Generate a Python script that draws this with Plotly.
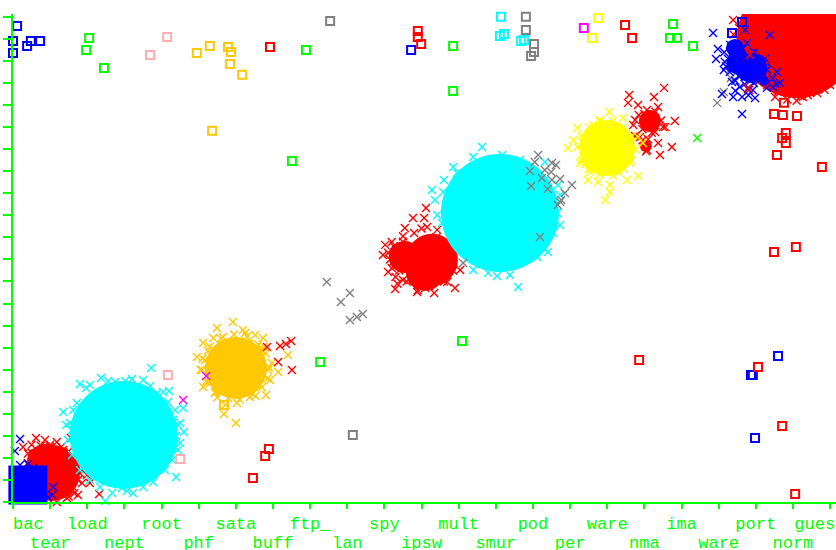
import plotly.graph_objects as go

# ---------- categories ----------
tick_labels = ["bac", "tear", "load", "nept", "root", "phf", "sata", "buff", "ftp_", "lan", "spy", "ipsw",
               "mult", "smur", "pod", "per", "ware", "nma", "ima", "ware", "port", "norm", "gues"]

# ---------- misclassified / off-diagonal instances (squares) ----------
blue_sq_x = [0.11, 0.00, 0.48, 0.73, 0.38, 0.00, 10.72, 19.36, 19.63, 19.87, 19.92, 20.60, 19.98]
blue_sq_y = [21.59, 20.91, 20.91, 20.91, 20.68, 20.36, 20.50, 21.27, 21.77, 5.76, 5.76, 6.62, 2.90]
green_sq_x = [2.05, 1.97, 2.45, 7.51, 7.89, 11.85, 11.85, 12.09, 8.27, 17.77, 17.69, 17.88, 18.31]
green_sq_y = [21.04, 20.50, 19.68, 15.46, 20.50, 20.68, 18.64, 7.30, 6.35, 21.68, 21.04, 21.04, 20.68]
pink_sq_x = [4.15, 3.69, 4.17, 4.50]
pink_sq_y = [21.09, 20.27, 5.76, 1.95]
orange_sq_x = [4.95, 5.30, 5.79, 5.87, 5.84, 6.17, 5.36, 5.68]
orange_sq_y = [20.36, 20.68, 20.63, 20.41, 19.86, 19.37, 16.83, 4.40]
red_sq_x = [6.92, 10.90, 10.90, 10.99, 16.48, 16.67, 6.46, 6.79, 6.89, 16.86, 20.06, 20.71, 21.06,
            20.76, 20.49, 20.73, 21.11, 20.81, 20.71, 20.81, 20.57, 21.78, 20.49, 21.08]
red_sq_y = [20.63, 21.36, 21.09, 20.77, 21.63, 21.04, 1.09, 2.09, 2.40, 6.44, 6.12, 3.45, 0.36,
            18.10, 17.60, 17.55, 17.51, 16.73, 16.51, 16.28, 15.74, 15.19, 11.34, 11.56]
gray_sq_x = [8.54, 9.15, 13.81, 13.81, 14.03, 14.03, 13.95]
gray_sq_y = [21.81, 3.04, 22.00, 21.41, 20.77, 20.41, 20.23]
cyan_sq_x = [13.14, 13.22, 13.11, 13.68, 13.76]
cyan_sq_y = [22.00, 21.22, 21.13, 20.91, 20.95]
yellow_sq_x = [15.75, 15.59]
yellow_sq_y = [21.95, 21.04]
magenta_sq_x = [15.37]
magenta_sq_y = [21.50]

# ---------- correctly classified instances: dense centres of each cloud ----------
norm_core_x, norm_core_y = [21.11], [21.04]
nept_core_x, nept_core_y = [2.98], [3.04]
tear_core_x, tear_core_y = [1.05, 0.86], [1.32, 1.81]
back_core_x, back_core_y = [0.40], [0.77]
sata_core_x, sata_core_y = [6.00], [6.08]
ipsw_core_x, ipsw_core_y = [11.28, 10.55, 11.09], [10.98, 11.11, 10.43]
smur_core_x, smur_core_y = [13.11], [13.11]
ware_core_x, ware_core_y = [15.99], [16.05]
nma_core_x, nma_core_y = [17.15, 17.04], [17.28, 16.14]
wcl_core_x, wcl_core_y = [19.57, 19.90, 19.44, 20.05, 20.22], [19.95, 19.68, 20.59, 19.50, 19.10]

# ---------- outer instances of each cloud (crosses) ----------
nept_x = [3.72, 4.20, 3.88, 4.36, 4.58, 4.60, 4.50, 4.44, 4.39, 3.77, 3.23, 2.67, 2.48, 2.93, 1.35, 1.80, 2.37,
          2.75, 3.20, 3.50, 1.53, 1.72, 2.07, 4.04, 4.31, 4.50, 1.48, 1.59, 1.97, 2.56, 3.02, 3.69, 4.17, 4.44,
          4.39, 4.28, 4.09, 3.50, 3.07, 2.34, 2.07, 1.80, 1.59, 1.43, 1.62]
nept_y = [6.08, 5.03, 4.94, 4.17, 4.26, 3.17, 2.68, 2.36, 1.13, 0.91, 0.41, 0.41, 0.05, 0.63, 4.08, 5.35, 5.62,
          5.44, 5.58, 5.53, 3.58, 4.49, 5.31, 4.99, 3.72, 3.58, 2.81, 3.27, 5.17, 5.49, 5.49, 5.26, 4.54, 3.49,
          2.99, 1.90, 1.45, 0.68, 0.50, 0.68, 1.00, 1.45, 2.13, 3.49, 4.17]
tear_x = [0.62, 0.86, 1.18, 1.56, 0.27, 0.51, 1.80, 1.86, 2.07, 2.32, 1.75, 1.45, 1.18, 1.67, 0.40, 1.99, 1.53,
          1.35, 1.00, 0.13, 0.81, 0.54, 0.50, 0.70, 1.00, 1.30, 1.50, 1.60, 1.70, 1.80, 1.75, 1.60, 1.30, 1.10,
          0.95, 0.75, 0.40, 1.90, 1.65, 1.50]
tear_y = [2.90, 2.81, 2.72, 2.90, 2.49, 2.22, 1.68, 0.86, 0.86, 0.36, 0.32, 0.18, 0.00, 1.32, 1.77, 1.22, 0.68,
          2.36, 2.49, 1.22, 1.68, 1.32, 2.60, 2.30, 2.60, 2.50, 2.30, 2.00, 1.70, 1.30, 1.00, 0.70, 0.40, 0.30,
          0.15, 2.55, 2.20, 1.50, 0.40, 0.25]
back_x = [0.19, 0.05, -0.05, 0.51, 0.81, 1.08, 0.94, 0.54, 0.78, 1.05, 0.19, 0.40]
back_y = [2.86, 2.31, 1.68, 1.36, 0.54, 0.68, 0.23, 1.54, 0.68, 0.32, 1.68, 1.72]
sata_x = [5.49, 5.92, 6.19, 5.12, 5.65, 4.95, 5.09, 5.12, 5.44, 5.71, 5.68, 6.00, 6.03, 6.52, 6.81, 6.92, 7.14,
          7.40, 6.73, 6.52, 6.25, 5.39, 6.97, 5.30, 6.38, 5.17, 6.70, 6.87, 6.90, 6.80, 6.60, 6.30, 5.95, 5.60,
          5.30, 5.10, 5.05, 5.20, 5.45, 5.80, 6.10, 6.45, 6.70, 6.85, 5.25, 6.55, 5.50, 6.35, 6.75, 5.35]
sata_y = [7.89, 8.16, 7.80, 7.21, 7.48, 6.58, 5.99, 5.22, 4.94, 4.40, 3.99, 3.58, 4.49, 4.81, 4.85, 5.53, 5.90,
          6.67, 7.44, 7.57, 7.66, 7.44, 6.30, 5.40, 4.76, 6.44, 6.89, 5.99, 6.10, 6.75, 7.15, 7.50, 7.60, 7.40,
          7.05, 6.50, 6.00, 5.45, 5.00, 4.70, 4.65, 4.90, 5.20, 5.60, 6.85, 5.35, 4.75, 7.15, 7.05, 5.75]
buff_x = [6.84, 7.19, 7.35, 7.49, 7.14, 7.51]
buff_y = [7.03, 7.07, 7.17, 7.30, 6.35, 5.99]
lan_x = [8.45, 9.07, 8.83, 9.07, 9.26, 9.42]
lan_y = [9.98, 9.48, 9.07, 8.25, 8.39, 8.53]
pod_x = [14.14, 14.51, 14.32, 13.92, 14.49, 14.73, 13.95, 14.40, 15.05, 14.86, 14.73, 14.19, 12.12, 18.96, 19.14,
         19.33, 14.62, 14.05, 14.24, 14.51, 14.76, 14.67]
pod_y = [15.74, 15.37, 15.06, 15.01, 14.97, 14.65, 14.33, 14.19, 14.38, 14.01, 13.61, 12.02, 10.84, 18.10, 18.59,
         19.23, 15.28, 15.42, 14.69, 14.60, 13.70, 13.47]
ipsw_x = [11.12, 10.77, 11.07, 10.55, 11.15, 10.02, 9.96, 10.10, 10.29, 10.88, 11.34, 11.90, 11.69, 12.04, 10.50,
          10.42, 10.20, 11.42, 10.31, 10.23, 10.10, 10.25, 10.50, 10.80, 11.00, 11.40, 11.70, 11.85, 11.85, 11.60,
          11.20, 10.90, 10.60, 10.30, 10.20, 10.70, 10.40, 10.90, 11.10, 10.50, 10.15, 10.35]
ipsw_y = [13.33, 12.88, 12.88, 12.43, 12.47, 11.66, 11.20, 10.43, 9.66, 9.52, 9.48, 9.70, 9.98, 10.52, 10.07,
          10.84, 11.79, 12.34, 11.43, 10.88, 11.30, 11.60, 11.80, 12.20, 12.40, 12.00, 11.60, 11.00, 10.50, 10.00,
          9.80, 9.85, 10.00, 10.20, 10.60, 10.50, 10.50, 9.60, 9.70, 12.05, 11.00, 9.90]
smur_x = [12.63, 12.39, 11.85, 11.95, 11.60, 11.28, 11.58, 11.36, 11.42, 11.55, 12.39, 12.79, 13.03, 13.38, 13.60,
          14.11, 14.40, 14.54, 14.65, 14.67, 14.32, 13.65, 13.17, 14.73, 14.73]
smur_y = [16.10, 15.65, 15.19, 14.92, 14.60, 14.15, 14.06, 13.70, 13.02, 12.65, 10.52, 10.39, 10.25, 10.29, 9.75,
          11.11, 11.34, 12.20, 13.11, 14.38, 15.42, 15.51, 15.74, 12.56, 13.92]
ware_x = [16.05, 15.94, 14.94, 15.19, 15.27, 15.48, 15.75, 16.07, 16.53, 16.83, 16.61, 16.83, 16.42, 15.62, 16.07,
          15.08, 16.96, 15.54, 15.80, 16.75, 16.65, 16.45, 16.15, 15.80, 15.50, 15.30, 15.20, 15.30, 15.50, 15.80,
          16.15, 16.45, 16.65, 15.40, 16.30]
ware_y = [17.69, 13.70, 16.05, 16.96, 15.37, 14.60, 14.51, 14.38, 14.60, 14.78, 15.37, 16.55, 17.41, 17.10, 14.06,
          16.42, 16.28, 14.97, 17.32, 16.00, 16.60, 17.00, 17.30, 17.25, 17.00, 16.60, 16.10, 15.50, 15.10, 14.85,
          14.80, 15.10, 15.50, 15.30, 14.95]
nma_x = [16.59, 17.53, 17.26, 17.37, 16.83, 17.82, 17.56, 17.37, 17.74, 17.42, 17.07, 16.75, 16.56, 17.07, 16.88,
         17.29, 16.70, 16.85, 17.00, 17.30, 17.45, 17.50, 16.95, 17.20, 17.05, 16.95, 17.10, 16.75]
nma_y = [18.46, 18.78, 18.37, 17.91, 18.00, 17.28, 17.01, 16.28, 16.10, 15.74, 15.96, 17.32, 18.10, 17.78, 16.55,
         16.78, 17.10, 17.55, 17.60, 17.70, 17.30, 17.00, 16.90, 16.75, 15.90, 16.40, 16.45, 16.60]
norm_x = [19.39, 22.00, 21.65, 21.27, 20.52, 21.00, 19.82, 20.60, 20.85, 21.10, 21.40, 21.55, 21.85, 22.10, 20.30,
          19.40, 19.55, 21.20]
norm_y = [21.86, 18.91, 18.55, 18.37, 18.37, 18.59, 18.68, 18.60, 18.25, 18.20, 18.45, 18.75, 18.70, 19.20, 18.90,
          21.20, 21.50, 18.40]
wcl_x = [18.85, 18.98, 18.93, 19.14, 19.09, 19.39, 19.63, 19.63, 19.98, 19.57, 19.36, 19.92, 20.38, 20.57, 20.65,
         20.30, 19.31, 19.17, 20.46, 20.11, 19.79, 19.71, 20.03, 19.76, 20.30, 20.11, 19.57, 19.30, 19.45, 19.70,
         19.95, 20.15, 20.30, 19.25, 19.40, 19.55, 19.70, 19.85, 20.05, 20.25, 20.45, 20.55, 19.15, 19.20, 19.35,
         19.80, 19.45, 19.65, 19.95]
wcl_y = [21.27, 20.54, 20.09, 19.59, 18.50, 18.37, 18.37, 17.60, 18.32, 18.82, 19.05, 18.68, 21.18, 19.50, 19.00,
         18.78, 20.73, 19.95, 18.82, 19.14, 18.73, 21.41, 20.36, 20.82, 19.91, 19.37, 19.37, 19.50, 19.10, 18.95,
         19.00, 19.40, 19.60, 20.10, 20.30, 19.30, 19.30, 19.10, 19.70, 20.10, 19.20, 18.95, 20.40, 19.75, 19.70,
         18.45, 18.65, 20.55, 20.40]
norm_over_x = [19.79, 20.11, 19.84, 20.38]
norm_over_y = [18.77, 20.50, 20.27, 20.05]
green_x_x, green_x_y = [18.42], [16.51]
magenta_x_x, magenta_x_y = [4.58, 5.20], [4.63, 5.71]

# ---------- styles ----------
RED, CYAN, ORANGE, YELLOW, BLUE = "#ff0000", "#00ffff", "#ffc800", "#ffff00", "#0000ff"
GREEN, PINK, GRAY, MAGENTA = "#00ff00", "#ffafaf", "#808080", "#ff00ff"

fig = go.Figure()


def crosses(x, y, color, xaxis="x"):
    fig.add_trace(go.Scatter(x=x, y=y, mode="markers", cliponaxis=False, hoverinfo="skip", xaxis=xaxis,
                             marker=dict(symbol="x-thin", size=8, color=color, opacity=1,
                                         line=dict(color=color, width=1.4))))


def squares(x, y, color):
    fig.add_trace(go.Scatter(x=x, y=y, mode="markers", cliponaxis=False, hoverinfo="skip",
                             marker=dict(symbol="square-open", size=8, color=color, opacity=1,
                                         line=dict(color=color, width=2))))


def core(x, y, color, sizes, symbol="circle", clip=False):
    fig.add_trace(go.Scatter(x=x, y=y, mode="markers", cliponaxis=clip, hoverinfo="skip",
                             marker=dict(symbol=symbol, size=sizes, color=color, opacity=1, line=dict(width=0))))


core(tear_core_x, tear_core_y, RED, [56, 36])
crosses(tear_x, tear_y, RED)
core(back_core_x, back_core_y, BLUE, [39], symbol="square")
crosses(back_x, back_y, BLUE)
core(nept_core_x, nept_core_y, CYAN, [108])
crosses(nept_x, nept_y, CYAN)
core(sata_core_x, sata_core_y, ORANGE, [62])
crosses(sata_x, sata_y, ORANGE)
crosses(buff_x, buff_y, RED)
crosses(lan_x, lan_y, GRAY, xaxis="x2")
core(ipsw_core_x, ipsw_core_y, RED, [52, 32, 38])
crosses(ipsw_x, ipsw_y, RED)
core(smur_core_x, smur_core_y, CYAN, [118])
crosses(smur_x, smur_y, CYAN)
crosses(pod_x, pod_y, GRAY)
core(nma_core_x, nma_core_y, RED, [22, 12])
crosses(nma_x, nma_y, RED)
core(ware_core_x, ware_core_y, YELLOW, [56])
crosses(ware_x, ware_y, YELLOW)
core(norm_core_x, norm_core_y, RED, [120], clip=True)
crosses(norm_x, norm_y, RED)
core(wcl_core_x, wcl_core_y, BLUE, [26, 30, 18, 18, 10])
crosses(wcl_x, wcl_y, BLUE)
crosses(norm_over_x, norm_over_y, RED)
crosses(green_x_x, green_x_y, GREEN)
crosses(magenta_x_x, magenta_x_y, MAGENTA)

squares(blue_sq_x, blue_sq_y, BLUE)
squares(green_sq_x, green_sq_y, GREEN)
squares(pink_sq_x, pink_sq_y, PINK)
squares(orange_sq_x, orange_sq_y, ORANGE)
squares(red_sq_x, red_sq_y, RED)
squares(gray_sq_x, gray_sq_y, GRAY)
squares(cyan_sq_x, cyan_sq_y, CYAN)
squares(yellow_sq_x, yellow_sq_y, YELLOW)
squares(magenta_sq_x, magenta_sq_y, MAGENTA)

# two staggered rows of labels; the outermost two are nudged to stay in the window
NB = "\u00a0"
last = len(tick_labels) - 1
row2_vals = [i for i in range(len(tick_labels)) if i % 2]
row2_text = [tick_labels[i] for i in row2_vals]
label_font = dict(family="Liberation Mono", size=17, color=GREEN)
x_range = [0, 22.16]

fig.update_layout(
    width=836, height=550, autosize=False, showlegend=False,
    paper_bgcolor="white", plot_bgcolor="white",
    margin=dict(l=13, r=0, t=14, b=48, autoexpand=False),
    xaxis=dict(range=x_range, tickmode="array", tickvals=list(range(23)),
               ticktext=[NB * 3 + tick_labels[0] if i == 0 else tick_labels[i] + NB * 3 if i == last
                         else tick_labels[i] if i % 2 == 0 else "" for i in range(23)],
               ticklabeloverflow="allow",
               showgrid=False, zeroline=False, showline=True, linecolor=GREEN, linewidth=2,
               ticks="outside", ticklen=5, tickwidth=1.5, tickcolor=GREEN, tickangle=0,
               ticklabelstandoff=0, tickfont=label_font),
    xaxis2=dict(range=x_range, overlaying="x", side="bottom", anchor="y", tickmode="array",
                tickvals=row2_vals, ticktext=row2_text, ticklabeloverflow="allow",
                showgrid=False, zeroline=False, showline=False,
                ticks="outside", ticklen=5, tickwidth=0, tickcolor="rgba(0,0,0,0)", tickangle=0,
                ticklabelstandoff=20, tickfont=label_font),
    yaxis=dict(range=[0, 22.13], tickmode="array", tickvals=list(range(23)), showticklabels=False,
               showgrid=False, zeroline=False, showline=True, linecolor=GREEN, linewidth=2,
               ticks="outside", ticklen=8, tickwidth=1.5, tickcolor=GREEN),
)

fig.write_html("out.html", config=dict(displayModeBar=False),
               post_script="document.body.style.margin='0';document.body.style.overflow='hidden';")
